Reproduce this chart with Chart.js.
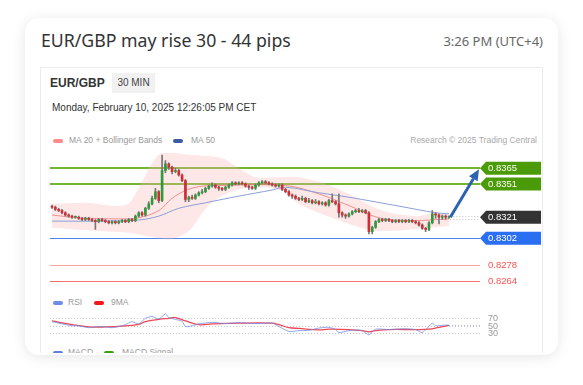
<!DOCTYPE html>
<html>
<head>
<meta charset="utf-8">
<script src="https://cdn.jsdelivr.net/npm/chart.js@4.4.1/dist/chart.umd.min.js"></script>
<style>
  html, body { margin:0; padding:0; background:#fff; width:583px; height:385px; overflow:hidden; }
  .card { position:absolute; left:25px; top:18px; width:533px; height:337px; border-radius:14px; background:#fff;
          box-shadow:0 2px 14px rgba(0,0,0,.10); }
  .title { position:absolute; left:41px; top:29px; font:17.7px/22px "Noto Sans", sans-serif; color:#333; }
  .time  { position:absolute; right:40px; top:33px; font:13px/16px "Noto Sans", sans-serif; color:#666; }
  .frame { position:absolute; left:40px; top:67px; width:503px; height:286px; overflow:hidden; font-family:Arial, sans-serif; }
  .frame .border { position:absolute; left:0; top:0; width:501px; height:300px; border:1px solid #ececec; }
  .abs { position:absolute; white-space:nowrap; }
  .pair { left:10px; top:9px; font:bold 12px/14px Arial, sans-serif; color:#333; }
  .tf { left:72px; top:6px; width:43px; height:20px; background:#f1f1f1; font:10px/20px Arial, sans-serif; color:#444; text-align:center; }
  .date { left:12px; top:35px; font:10px/12px Arial, sans-serif; color:#333; }
  .leg { font:8.5px/10px Arial, sans-serif; color:#999; }
  .sw { position:absolute; width:10px; height:4px; border-radius:2px; }
  canvas { position:absolute; }
</style>
</head>
<body>
<div class="card"></div>
<div class="title">EUR/GBP may rise 30 - 44 pips</div>
<div class="time">3:26 PM (UTC+4)</div>

<div class="frame">
  <div class="border"></div>
  <div class="abs pair">EUR/GBP</div>
  <div class="abs tf">30 MIN</div>
  <div class="abs date">Monday, February 10, 2025 12:26:05 PM CET</div>

  <div class="sw" style="left:13px;top:72px;background:#ff8a8a"></div>
  <div class="abs leg" style="left:29px;top:68px">MA 20 + Bollinger Bands</div>
  <div class="sw" style="left:133px;top:72px;background:#3b5ba5"></div>
  <div class="abs leg" style="left:151px;top:68px">MA 50</div>
  <div class="abs leg" style="right:6px;top:68px;color:#aaa">Research © 2025 Trading Central</div>

  <canvas id="main" width="492" height="145" style="left:10px;top:78px"></canvas>

  <div class="sw" style="left:13px;top:234px;background:#6d8ee6"></div>
  <div class="abs leg" style="left:28px;top:230px">RSI</div>
  <div class="sw" style="left:54px;top:234px;background:#f01818"></div>
  <div class="abs leg" style="left:71px;top:230px">9MA</div>

  <canvas id="rsi" width="492" height="30" style="left:10px;top:243px"></canvas>

  <div class="sw" style="left:13px;top:284px;background:#5b7fe0"></div>
  <div class="abs leg" style="left:28px;top:280px">MACD</div>
  <div class="sw" style="left:64px;top:284px;background:#3aa010"></div>
  <div class="abs leg" style="left:82px;top:280px">MACD Signal</div>
</div>

<script>
// EUR/GBP 30 min candles
const opens = [
  0.8331,0.8330,0.8328,0.8327,0.8325,0.8323,0.8322,0.8321,0.8321,0.8320,
  0.8319,0.8320,0.8319,0.8318,0.8317,0.8319,0.8318,0.8317,0.8316,0.8317,
  0.8316,0.8317,0.8318,0.8317,0.8319,0.8318,0.8322,0.8325,0.8323,0.8329,
  0.8333,0.8338,0.8344,0.8336,0.8363,0.8369,0.8366,0.8362,0.8363,0.8359,
  0.8354,0.8337,0.8339,0.8338,0.8341,0.8343,0.8344,0.8347,0.8349,0.8350,
  0.8348,0.8347,0.8346,0.8348,0.8350,0.8352,0.8351,0.8352,0.8351,0.8349,
  0.8348,0.8347,0.8350,0.8352,0.8353,0.8352,0.8351,0.8350,0.8349,0.8350,
  0.8346,0.8344,0.8341,0.8340,0.8338,0.8337,0.8338,0.8335,0.8336,0.8334,
  0.8335,0.8333,0.8334,0.8332,0.8336,0.8335,0.8333,0.8325,0.8323,0.8322,
  0.8324,0.8326,0.8327,0.8326,0.8327,0.8325,0.8308,0.8312,0.8317,0.8319,
  0.8318,0.8319,0.8318,0.8317,0.8318,0.8317,0.8318,0.8317,0.8318,0.8317,
  0.8316,0.8314,0.8311,0.8310,0.8316,0.8324,0.8323,0.8321,0.8322,0.8321];
const highs = [
  0.8332,0.8331,0.8329,0.8328,0.8326,0.8324,0.8323,0.8322,0.8322,0.8321,
  0.8321,0.8321,0.8320,0.8319,0.8320,0.8320,0.8319,0.8318,0.8318,0.8318,
  0.8318,0.8319,0.8319,0.8320,0.8320,0.8323,0.8326,0.8326,0.8330,0.8335,
  0.8340,0.8347,0.8345,0.8377,0.8372,0.8370,0.8367,0.8365,0.8364,0.8360,
  0.8355,0.8340,0.8341,0.8342,0.8344,0.8346,0.8348,0.8350,0.8352,0.8351,
  0.8349,0.8348,0.8349,0.8351,0.8353,0.8353,0.8353,0.8353,0.8352,0.8350,
  0.8349,0.8351,0.8353,0.8354,0.8354,0.8353,0.8352,0.8351,0.8351,0.8351,
  0.8347,0.8345,0.8342,0.8341,0.8339,0.8340,0.8339,0.8338,0.8337,0.8337,
  0.8336,0.8335,0.8335,0.8337,0.8342,0.8336,0.8342,0.8326,0.8324,0.8325,
  0.8327,0.8328,0.8329,0.8328,0.8328,0.8326,0.8313,0.8318,0.8320,0.8320,
  0.8320,0.8320,0.8319,0.8319,0.8319,0.8319,0.8319,0.8319,0.8319,0.8318,
  0.8317,0.8315,0.8312,0.8317,0.8327,0.8325,0.8324,0.8323,0.8323,0.8322];
const lows = [
  0.8329,0.8327,0.8326,0.8324,0.8322,0.8321,0.8320,0.8320,0.8319,0.8318,
  0.8318,0.8318,0.8317,0.8310,0.8316,0.8317,0.8316,0.8315,0.8315,0.8315,
  0.8315,0.8316,0.8316,0.8316,0.8317,0.8317,0.8321,0.8322,0.8322,0.8328,
  0.8332,0.8337,0.8334,0.8335,0.8361,0.8364,0.8360,0.8361,0.8358,0.8353,
  0.8335,0.8335,0.8337,0.8337,0.8340,0.8342,0.8343,0.8346,0.8348,0.8347,
  0.8345,0.8345,0.8345,0.8347,0.8349,0.8350,0.8350,0.8350,0.8348,0.8346,
  0.8346,0.8346,0.8349,0.8351,0.8351,0.8350,0.8349,0.8348,0.8348,0.8345,
  0.8343,0.8340,0.8338,0.8337,0.8336,0.8336,0.8334,0.8334,0.8333,0.8333,
  0.8332,0.8332,0.8331,0.8331,0.8334,0.8332,0.8321,0.8321,0.8320,0.8321,
  0.8323,0.8325,0.8325,0.8325,0.8324,0.8306,0.8306,0.8311,0.8316,0.8317,
  0.8317,0.8317,0.8316,0.8316,0.8316,0.8316,0.8316,0.8316,0.8316,0.8315,
  0.8313,0.8310,0.8308,0.8309,0.8315,0.8320,0.8315,0.8319,0.8319,0.8320];
const closes = [
  0.8330,0.8328,0.8327,0.8325,0.8323,0.8322,0.8321,0.8321,0.8320,0.8319,
  0.8320,0.8319,0.8318,0.8317,0.8319,0.8318,0.8317,0.8316,0.8317,0.8316,
  0.8317,0.8318,0.8317,0.8319,0.8318,0.8322,0.8325,0.8323,0.8329,0.8333,
  0.8338,0.8344,0.8336,0.8363,0.8369,0.8366,0.8362,0.8363,0.8359,0.8354,
  0.8337,0.8339,0.8338,0.8341,0.8343,0.8344,0.8347,0.8349,0.8350,0.8348,
  0.8347,0.8346,0.8348,0.8350,0.8352,0.8351,0.8352,0.8351,0.8349,0.8348,
  0.8347,0.8350,0.8352,0.8353,0.8352,0.8351,0.8350,0.8349,0.8350,0.8346,
  0.8344,0.8341,0.8340,0.8338,0.8337,0.8338,0.8335,0.8336,0.8334,0.8335,
  0.8333,0.8334,0.8332,0.8336,0.8335,0.8333,0.8325,0.8323,0.8322,0.8324,
  0.8326,0.8327,0.8326,0.8327,0.8325,0.8308,0.8312,0.8317,0.8319,0.8318,
  0.8319,0.8318,0.8317,0.8318,0.8317,0.8318,0.8317,0.8318,0.8317,0.8316,
  0.8314,0.8311,0.8310,0.8316,0.8324,0.8323,0.8321,0.8322,0.8321,0.8321];

// indicator lines, read at candle positions
const ma20At  = [0, 8, 20, 26, 32, 36, 40, 44, 48, 70, 80, 89, 98, 108, 119];
const ma20    = [0.8323,0.83205,0.83195,0.83205,0.8327,0.8338,0.8345,0.83485,0.83495,0.83495,0.8342,0.83315,0.83205,0.8318,0.83195];
const ma50At  = [0, 14, 26, 32, 38, 46, 56, 66, 70, 80, 89, 104, 115, 119];
const ma50    = [0.83175,0.83175,0.83185,0.8322,0.8329,0.8334,0.8340,0.83455,0.8348,0.8343,0.8339,0.8331,0.8325,0.8324];
const bbUpAt  = [0, 10, 22, 26, 30, 33, 42, 51, 56, 61, 67, 74, 82, 89, 99, 109, 113, 119];
const bbUp    = [0.8333,0.8334,0.8332,0.83475,0.83695,0.83785,0.8377,0.8374,0.8365,0.8357,0.8357,0.8357,0.8351,0.8342,0.8327,0.8322,0.8324,0.8325];
const bbLowAt = [0, 14, 23, 31, 36, 41, 46, 51, 59, 69, 74, 84, 94, 99, 109, 119];
const bbLow   = [0.83115,0.83085,0.8307,0.83025,0.83015,0.83085,0.83285,0.83405,0.83475,0.8345,0.8333,0.83205,0.83105,0.83085,0.83105,0.8313];

// key levels
const resistances = [0.8365, 0.8351];
const supports    = [0.8302];
const lowerLevels = [0.8278, 0.8264];
const lastPrice   = 0.8321;

// RSI panel
const rsiAt  = [0,2,6,8,11,14,16,18,20,22,24,26,28,30,32,34,35,37,39,40,42,44,48,52,56,61,66,68,71,74,77,80,83,85,86,89,91,93,95,97,101,106,109,111,114,115,118,119];
const rsi    = [61,57,50,50,45,48,47,45,48,53,61,55,70,75,68,82,72,67,62,48,50,55,59,56,58,56,57,48,35,37,38,44,46,40,32,37,39,37,26,41,40,42,40,32,57,50,52,51];
const rsiMaAt = [0,6,11,16,22,26,28,32,35,37,40,44,48,56,66,68,71,74,80,83,89,93,95,97,101,109,113,116,119];
const rsiMa   = [63,53,47,47,50,54,61,67,70,72,63,53,55,57,57,53,45,43,39,41,40,37,34,37,40,40,41,46,51];
const rsiTicks = [70, 50, 30];

const GREEN = '#2f9a3a', RED = '#cf2e36';
const pts = (xs, ys) => xs.map((x, i) => ({ x: x, y: ys[i] }));
const idx = closes.map((_, i) => i);
const xAxis = { type:'linear', min:-0.6, max:128.3, offset:false, display:false };

function hLine(ctx, x0, x1, yy, color, w, dash) {
  ctx.beginPath();
  ctx.strokeStyle = color;
  ctx.lineWidth = w;
  ctx.setLineDash(dash || []);
  const yr = (w % 2) ? Math.round(yy) + 0.5 : Math.round(yy);
  ctx.moveTo(x0, yr); ctx.lineTo(x1, yr);
  ctx.stroke();
  ctx.setLineDash([]);
}

function tag(ctx, xt, yc, color, text) {
  ctx.beginPath();
  ctx.fillStyle = color;
  ctx.moveTo(xt, yc);
  ctx.lineTo(xt + 6, yc - 6.5);
  ctx.lineTo(xt + 61, yc - 6.5);
  ctx.lineTo(xt + 61, yc + 6.5);
  ctx.lineTo(xt + 6, yc + 6.5);
  ctx.closePath();
  ctx.fill();
  ctx.fillStyle = '#fff';
  ctx.font = '9.5px Arial';
  ctx.textBaseline = 'middle';
  ctx.fillText(text, xt + 8, yc + 0.5);
}

const levels = {
  id: 'levels',
  beforeDatasetsDraw(c) {
    const { ctx, chartArea: a, scales: { y } } = c;
    ctx.save();
    resistances.forEach(v => hLine(ctx, a.left, a.right, y.getPixelForValue(v), '#76b52f', 2));
    supports.forEach(v => hLine(ctx, a.left, a.right, y.getPixelForValue(v), '#4a86ee', 1));
    hLine(ctx, a.left, a.right, y.getPixelForValue(lowerLevels[0]), '#ffa2a2', 1);
    hLine(ctx, a.left, a.right, y.getPixelForValue(lowerLevels[1]), '#f47272', 1);
    ctx.restore();
  },
  afterDatasetsDraw(c) {
    const { ctx, chartArea: a, scales: { x, y } } = c;
    ctx.save();
    const x0 = x.getPixelForValue(idx.length - 0.6);
    const y0 = y.getPixelForValue(lastPrice);
    hLine(ctx, x0, a.right, y0 - 1, '#c4c4c4', 1, [1, 2]);
    hLine(ctx, x0, a.right, y0 + 2, '#c4c4c4', 1, [1, 2]);

    resistances.forEach(v => tag(ctx, a.right, y.getPixelForValue(v), '#4b9b08', v.toFixed(4)));
    tag(ctx, a.right, y0, '#333333', lastPrice.toFixed(4));
    supports.forEach(v => tag(ctx, a.right, y.getPixelForValue(v), '#2a6ef2', v.toFixed(4)));
    ctx.font = '9.5px Arial';
    ctx.textBaseline = 'middle';
    ctx.fillStyle = '#ff4f4f';
    lowerLevels.forEach(v => ctx.fillText(v.toFixed(4), a.right + 8, y.getPixelForValue(v) + 0.5));

    // projection arrow towards the first target
    const x1 = a.right - 1, y1 = y.getPixelForValue(resistances[0]) + 1;
    const ang = Math.atan2(y1 - y0, x1 - x0);
    const hl = 11, hw = 5;
    const bx = x1 - hl * Math.cos(ang), by = y1 - hl * Math.sin(ang);
    ctx.strokeStyle = '#2d62b2';
    ctx.fillStyle = '#2d62b2';
    ctx.lineWidth = 3;
    ctx.beginPath(); ctx.moveTo(x0, y0); ctx.lineTo(bx, by); ctx.stroke();
    ctx.beginPath();
    ctx.moveTo(x1, y1);
    ctx.lineTo(bx + hw * Math.sin(ang), by - hw * Math.cos(ang));
    ctx.lineTo(bx - hw * Math.sin(ang), by + hw * Math.cos(ang));
    ctx.closePath(); ctx.fill();
    ctx.restore();
  }
};

new Chart(document.getElementById('main'), {
  type: 'bar',
  data: {
    datasets: [
      { type:'line', data: pts(bbUpAt, bbUp), borderColor:'transparent', borderWidth:0, pointRadius:0,
        tension:0.35, fill:'+1', backgroundColor:'rgba(250,180,180,0.32)', order:6 },
      { type:'line', data: pts(bbLowAt, bbLow), borderColor:'transparent', borderWidth:0, pointRadius:0,
        tension:0.35, fill:false, order:6 },
      { type:'line', data: pts(ma20At, ma20), borderColor:'rgba(240,120,120,0.8)', borderWidth:1,
        pointRadius:0, tension:0.35, order:5 },
      { type:'line', data: pts(ma50At, ma50), borderColor:'#8a9fd6', borderWidth:1,
        pointRadius:0, tension:0.35, order:4 },
      { type:'bar', data: idx.map(i => ({ x:i, y:[lows[i], highs[i]] })), grouped:false,
        barThickness:1, backgroundColor:'#777', order:2 },
      { type:'bar', data: idx.map(i => ({ x:i, y:[opens[i], closes[i]] })), grouped:false,
        barThickness:2, minBarLength:1, order:1,
        backgroundColor: ctx => closes[ctx.dataIndex] >= opens[ctx.dataIndex] ? GREEN : RED }
    ]
  },
  options: {
    responsive:false, animation:false,
    layout:{ padding:{ left:0, right:62, top:0, bottom:0 } },
    plugins:{ legend:{ display:false }, tooltip:{ enabled:false } },
    scales:{
      x: xAxis,
      y: { min:0.82555, max:0.83860, display:false }
    }
  },
  plugins:[levels]
});

const rsiGuides = {
  id: 'rsiGuides',
  beforeDatasetsDraw(c) {
    const { ctx, chartArea: a, scales: { y } } = c;
    ctx.save();
    rsiTicks.forEach(v => hLine(ctx, a.left, a.right, y.getPixelForValue(v), '#c8c8c8', 1, [1, 2]));
    ctx.restore();
  },
  afterDatasetsDraw(c) {
    const { ctx, chartArea: a, scales: { x, y } } = c;
    ctx.save();
    const last = rsi[rsi.length - 1];
    hLine(ctx, x.getPixelForValue(rsiAt[rsiAt.length - 1]), a.right, y.getPixelForValue(last), 'rgba(110,145,235,0.6)', 1, [1, 2]);
    ctx.font = '9px Arial';
    ctx.textBaseline = 'middle';
    ctx.fillStyle = '#999';
    rsiTicks.forEach(v => ctx.fillText(String(v), a.right + 8, y.getPixelForValue(v) + 0.5));
    ctx.restore();
  }
};

new Chart(document.getElementById('rsi'), {
  type: 'line',
  data: {
    datasets: [
      { data: pts(rsiAt, rsi), borderColor:'rgba(105,140,232,0.75)', borderWidth:1, pointRadius:0, tension:0.2 },
      { data: pts(rsiMaAt, rsiMa), borderColor:'#f04656', borderWidth:1.3, pointRadius:0, tension:0.4 }
    ]
  },
  options: {
    responsive:false, animation:false,
    layout:{ padding:{ left:0, right:62, top:0, bottom:0 } },
    plugins:{ legend:{ display:false }, tooltip:{ enabled:false } },
    scales:{
      x: xAxis,
      y: { min:12.1, max:92.1, display:false }
    }
  },
  plugins:[rsiGuides]
});
</script>
</body>
</html>
